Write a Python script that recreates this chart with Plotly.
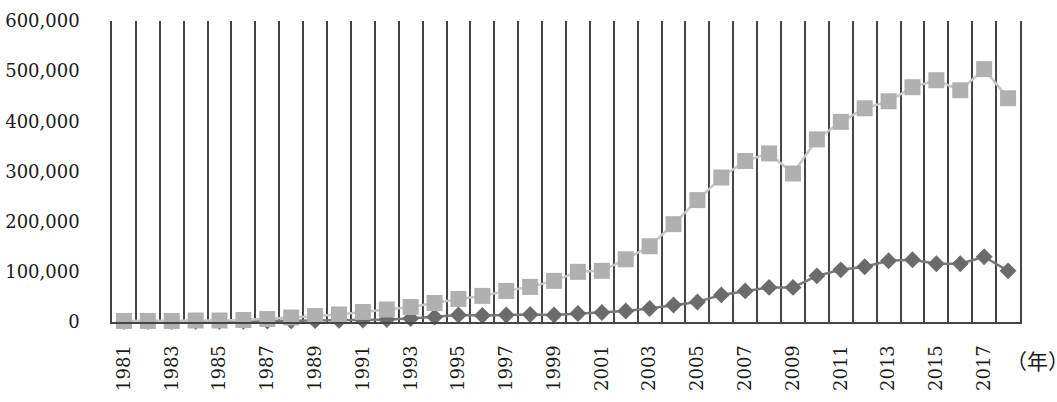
import plotly.graph_objects as go

years = list(range(1981, 2019))

# light gray squares series
series_a = [2000, 2000, 2000, 3000, 3000, 4000, 6000, 9000, 12000, 15000,
            20000, 25000, 30000, 38000, 46000, 52000, 62000, 70000, 82000, 100000,
            102000, 125000, 151000, 195000, 243000, 288000, 321000, 336000, 296000, 364000,
            399000, 426000, 440000, 468000, 482000, 462000, 504000, 446000]

# dark gray diamonds series
series_b = [1000, 1000, 1000, 1000, 1000, 1500, 2000, 2500, 3000, 3500,
            4000, 5000, 7000, 10000, 14000, 13000, 14000, 15000, 14000, 17000,
            19000, 22000, 27000, 34000, 40000, 54000, 62000, 69000, 69000, 92000,
            104000, 110000, 122000, 124000, 116000, 116000, 130000, 102000]

y_ticks = [0, 100000, 200000, 300000, 400000, 500000, 600000]
y_tick_text = ["0", "100,000", "200,000", "300,000", "400,000", "500,000", "600,000"]
x_ticks = list(range(1981, 2019, 2))
unit_label = "（年）"

serif = "DejaVu Serif"
grid_color = "#454545"

fig = go.Figure()
fig.add_trace(go.Scatter(
    x=years, y=series_b, mode="lines+markers",
    line=dict(color="#787878", width=2.5),
    marker=dict(symbol="diamond", size=13, color="#6b6b6b"),
    showlegend=False, cliponaxis=False))
fig.add_trace(go.Scatter(
    x=years, y=series_a, mode="lines+markers",
    line=dict(color="#c6c6c6", width=2.5),
    marker=dict(symbol="square", size=16, color="#b0b0b0"),
    showlegend=False, cliponaxis=False))

fig.update_layout(
    width=1057, height=402,
    margin=dict(l=112, r=37, t=21, b=80),
    plot_bgcolor="white", paper_bgcolor="white",
    font=dict(family=serif, size=18, color="#1a1a1a"),
    xaxis=dict(
        range=[1980.5, 2018.5],
        tickmode="array", tickvals=x_ticks, ticktext=[str(v) for v in x_ticks],
        tickangle=-90, ticks="", showgrid=False, zeroline=False,
        showline=True, linecolor=grid_color, linewidth=2,
        ticklabelstandoff=14, automargin=False,
        tickfont=dict(family=serif, size=18),
        minor=dict(tick0=1980.5, dtick=1, showgrid=True,
                   gridcolor=grid_color, gridwidth=1.5, ticks=""),
    ),
    yaxis=dict(
        range=[0, 600000],
        tickmode="array", tickvals=y_ticks, ticktext=y_tick_text,
        ticks="", showgrid=False, zeroline=False,
        showline=True, mirror=True, linecolor=grid_color, linewidth=1.5,
        ticklabelstandoff=27, automargin=False,
        tickfont=dict(family=serif, size=18),
    ),
    annotations=[dict(
        text=unit_label, xref="paper", yref="paper",
        x=1.0, y=-0.126, xanchor="left", yanchor="middle", xshift=-16,
        showarrow=False,
        font=dict(family="Noto Sans CJK JP", size=21, color="#1a1a1a"))],
)

fig.write_html("out.html")
